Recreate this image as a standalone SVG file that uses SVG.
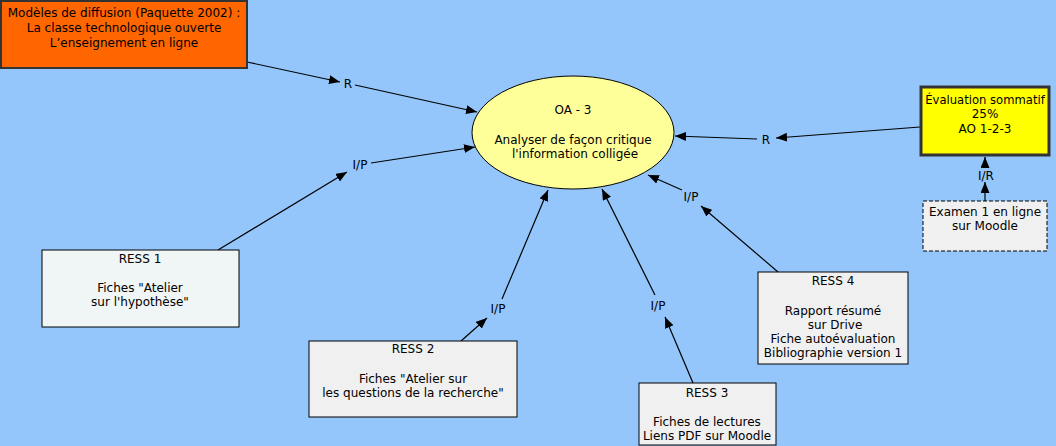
<svg xmlns="http://www.w3.org/2000/svg" width="1056" height="446" viewBox="0 0 1056 446">
<defs>
<marker id="ah" markerUnits="userSpaceOnUse" markerWidth="11" markerHeight="10" refX="11" refY="4.5" orient="auto">
<path d="M0,0 L11,4.5 L0,9 z" fill="#000"/>
</marker>
<style>
text{font-family:"DejaVu Sans",Verdana,sans-serif;font-size:12px;fill:#000;text-anchor:middle}
.c line{stroke:#000;stroke-width:1.2;marker-end:url(#ah)}
.res{fill:#f0f0f0;stroke:#000;stroke-width:1}
</style>
</defs>
<rect x="0" y="0" width="1056" height="446" fill="#94c6fc"/>
<g class="c" id="connectors">
<line x1="247" y1="62" x2="340" y2="82"/>
<line x1="355" y1="85" x2="477" y2="112"/>
<line x1="920" y1="127" x2="776" y2="138"/>
<line x1="757" y1="139" x2="675" y2="136"/>
<line x1="218" y1="250" x2="347" y2="172"/>
<line x1="371" y1="163" x2="475" y2="147"/>
<line x1="461" y1="341" x2="487" y2="318"/>
<line x1="502" y1="299" x2="548" y2="190"/>
<line x1="693" y1="383" x2="665" y2="317"/>
<line x1="655" y1="295" x2="602" y2="189"/>
<line x1="778" y1="272" x2="701" y2="206"/>
<line x1="682" y1="190" x2="648" y2="175"/>
<line x1="985" y1="201" x2="985" y2="182"/>
<line x1="985" y1="167" x2="985" y2="157"/>
<text x="348" y="88">R</text>
<text x="766" y="144">R</text>
<text x="360" y="169">I/P</text>
<text x="498" y="313">I/P</text>
<text x="658" y="310">I/P</text>
<text x="691" y="201">I/P</text>
<text x="986" y="180">I/R</text>
</g>
<g id="modeles">
<rect x="1" y="1" width="246" height="67" fill="#ff6600" stroke="#333" stroke-width="2"/>
<text x="124" y="17">Modèles de diffusion (Paquette 2002) :</text>
<text x="124" y="32">La classe technologique ouverte</text>
<text x="124" y="47">L’enseignement en ligne</text>
</g>
<g id="oa3">
<ellipse cx="573" cy="132.5" rx="101" ry="56.5" fill="#ffff99" stroke="#000" stroke-width="1"/>
<text x="573" y="114">OA - 3</text>
<text x="573" y="144">Analyser de façon critique</text>
<text x="575" y="158">l'information colligée</text>
</g>
<g id="evaluation">
<rect x="921" y="87" width="128" height="68" fill="#ffff00" stroke="#333" stroke-width="3"/>
<text x="985" y="104" style="font-size:11.6px">Évaluation sommatif</text>
<text x="985" y="118">25%</text>
<text x="985" y="133">AO 1-2-3</text>
</g>
<g id="examen">
<rect x="923" y="201" width="124" height="50" fill="#f0f0f0" stroke="#000" stroke-width="1" stroke-dasharray="4,2"/>
<text x="985" y="216">Examen 1 en ligne</text>
<text x="985" y="230">sur Moodle</text>
</g>
<g id="ress1">
<rect x="42" y="250" width="197" height="77" fill="#f0f5f5" stroke="#000" stroke-width="1"/>
<text x="140" y="263">RESS 1</text>
<text x="140" y="292">Fiches "Atelier</text>
<text x="140" y="306">sur l'hypothèse"</text>
</g>
<g id="ress2">
<rect x="309" y="341" width="208" height="76" class="res"/>
<text x="413" y="353">RESS 2</text>
<text x="413" y="383">Fiches "Atelier sur</text>
<text x="413" y="397">les questions de la recherche"</text>
</g>
<g id="ress3">
<rect x="639" y="383" width="137" height="62" class="res"/>
<text x="707" y="397">RESS 3</text>
<text x="707" y="426">Fiches de lectures</text>
<text x="707" y="440">Liens PDF sur Moodle</text>
</g>
<g id="ress4">
<rect x="758" y="272" width="150" height="92" class="res"/>
<text x="833" y="285">RESS 4</text>
<text x="833" y="315">Rapport résumé</text>
<text x="835" y="329">sur Drive</text>
<text x="833" y="343">Fiche autoévaluation</text>
<text x="833" y="357">Bibliographie version 1</text>
</g>
</svg>
